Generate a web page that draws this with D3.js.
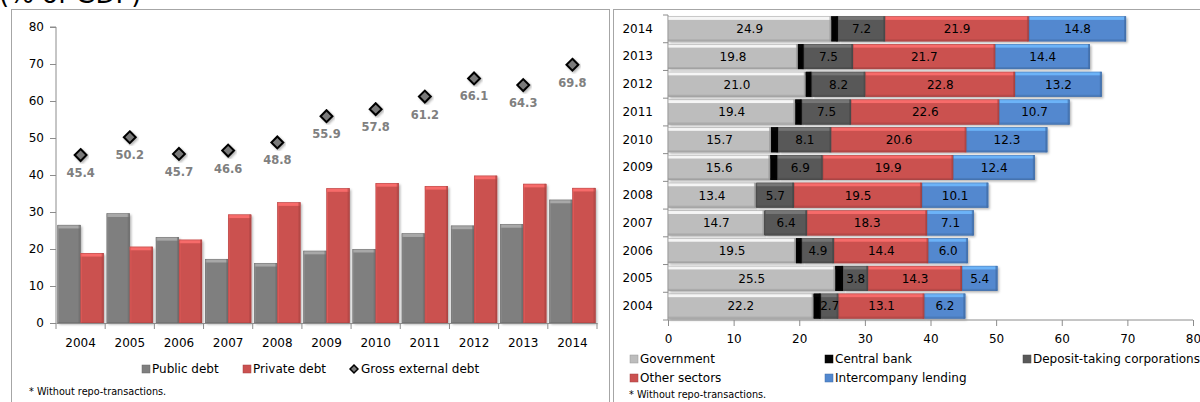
<!DOCTYPE html>
<html>
<head>
<meta charset="utf-8">
<script src="https://cdn.jsdelivr.net/npm/d3@7"></script>
<style>
  html, body { margin: 0; padding: 0; background: #fff; }
  svg { display: block; font-family: "DejaVu Sans", Verdana, sans-serif; }
</style>
</head>
<body>
<svg id="chart" width="1200" height="402"></svg>
<script>
// ---------- data ----------
const years = ["2004","2005","2006","2007","2008","2009","2010","2011","2012","2013","2014"];
const publicDebt  = [26.5, 29.6, 23.2, 17.3, 16.2, 19.5, 20.0, 24.2, 26.3, 26.7, 33.3];
const privateDebt = [18.9, 20.6, 22.5, 29.3, 32.6, 36.4, 37.8, 37.0, 39.8, 37.6, 36.5];
const grossDebt   = [45.4, 50.2, 45.7, 46.6, 48.8, 55.9, 57.8, 61.2, 66.1, 64.3, 69.8];
const leftTicks   = [0, 10, 20, 30, 40, 50, 60, 70, 80];

const government    = [22.2, 25.5, 19.5, 14.7, 13.4, 15.6, 15.7, 19.4, 21.0, 19.8, 24.9];
const centralBank   = [1.1, 1.2, 0.9, 0.1, 0.1, 1.1, 1.1, 1.0, 0.9, 0.9, 1.0];
const depositTaking = [2.7, 3.8, 4.9, 6.4, 5.7, 6.9, 8.1, 7.5, 8.2, 7.5, 7.2];
const otherSectors  = [13.1, 14.3, 14.4, 18.3, 19.5, 19.9, 20.6, 22.6, 22.8, 21.7, 21.9];
const intercompany  = [6.2, 5.4, 6.0, 7.1, 10.1, 12.4, 12.3, 10.7, 13.2, 14.4, 14.8];
const rightTicks    = [0, 10, 20, 30, 40, 50, 60, 70, 80];

const leftSeries  = ["Public debt", "Private debt"];
const rightSeries = ["Government", "Central bank", "Deposit-taking corporations", "Other sectors", "Intercompany lending"];
const title = "(% of GDP)";
const footnote = "* Without repo-transactions.";

// ---------- styles ----------
const colors = {
  "Public debt": "#7f7f7f",
  "Private debt": "#cb5150",
  "Government": "#bdbdbd",
  "Central bank": "#050505",
  "Deposit-taking corporations": "#595959",
  "Other sectors": "#cb5150",
  "Intercompany lending": "#5288cf"
};
const axisColor = "#8c8c8c";

const svg = d3.select("#chart");
const defs = svg.append("defs");
const f = defs.append("filter").attr("id", "shadow").attr("x", "-10%").attr("y", "-10%").attr("width", "130%").attr("height", "130%");
f.append("feDropShadow").attr("dx", 1.5).attr("dy", 1.5).attr("stdDeviation", 1).attr("flood-color", "#000").attr("flood-opacity", 0.3);

function bevelRect(g, x, y, w, h, color, horizontal) {
  const c = d3.color(color);
  const grp = g.append("g");
  grp.append("rect").attr("x", x).attr("y", y).attr("width", Math.max(0, w)).attr("height", Math.max(0, h))
    .attr("fill", color).attr("filter", "url(#shadow)");
  if (w > 2 && h > 2) {
    // top light bevel
    grp.append("rect").attr("x", x).attr("y", y).attr("width", w).attr("height", Math.min(3.5, h))
      .attr("fill", c.brighter(0.9)).attr("opacity", 0.85);
    // dark edge (right for horizontal, bottom-right for vertical)
    if (horizontal) {
      grp.append("rect").attr("x", x + w - 2).attr("y", y).attr("width", 2).attr("height", h)
        .attr("fill", c.darker(0.6)).attr("opacity", 0.7);
      grp.append("rect").attr("x", x).attr("y", y + h - 2).attr("width", w).attr("height", 2)
        .attr("fill", c.darker(0.6)).attr("opacity", 0.5);
    } else {
      grp.append("rect").attr("x", x + w - 2).attr("y", y).attr("width", 2).attr("height", h)
        .attr("fill", c.darker(0.5)).attr("opacity", 0.6);
      grp.append("rect").attr("x", x).attr("y", y).attr("width", 1.5).attr("height", h)
        .attr("fill", c.brighter(0.5)).attr("opacity", 0.5);
    }
    grp.append("rect").attr("x", x + 0.25).attr("y", y + 0.25).attr("width", w - 0.5).attr("height", h - 0.5)
      .attr("fill", "none").attr("stroke", c.darker(0.8)).attr("stroke-width", 0.5).attr("opacity", 0.7);
  }
  return grp;
}

// ---------- panels ----------
svg.append("rect").attr("x", 11.5).attr("y", 9.5).attr("width", 598).attr("height", 420)
  .attr("fill", "none").attr("stroke", "#a6a6a6").attr("stroke-width", 1);
svg.append("rect").attr("x", 613.5).attr("y", 9.5).attr("width", 620).attr("height", 420)
  .attr("fill", "none").attr("stroke", "#a6a6a6").attr("stroke-width", 1);

svg.append("text").attr("x", -1).attr("y", 3).attr("font-size", 26).attr("fill", "#000").text(title);

// ================= LEFT CHART =================
const L = svg.append("g");
const x0 = d3.scaleBand().domain(years).range([56, 597]).paddingInner(0).paddingOuter(0);
const x1 = d3.scaleBand().domain(leftSeries).range([1.5, x0.bandwidth() - 1.5]).padding(0);
const yL = d3.scaleLinear().domain([0, 80]).range([323, 27]);

// y axis
const yAxisL = L.append("g").attr("transform", "translate(56,0)")
  .call(d3.axisLeft(yL).tickValues(leftTicks).tickSize(6).tickPadding(6).tickFormat(d3.format("d")));
yAxisL.selectAll("text").attr("font-size", 12).attr("fill", "#000").attr("font-family", "DejaVu Sans");
yAxisL.selectAll("line").attr("stroke", axisColor);
yAxisL.select(".domain").attr("stroke", axisColor).attr("d", `M-6,${yL(80)}H0V${yL(0)}`);

// bars
const leftVals = { "Public debt": publicDebt, "Private debt": privateDebt };
years.forEach((yr, i) => {
  leftSeries.forEach(s => {
    const v = leftVals[s][i];
    const bx = x0(yr) + x1(s);
    bevelRect(L, bx, yL(v), x1.bandwidth(), yL(0) - yL(v), colors[s], false);
  });
});

// x axis
const xAxisL = L.append("g").attr("transform", `translate(0,${yL(0)})`)
  .call(d3.axisBottom(x0).tickSize(0).tickPadding(15));
xAxisL.selectAll("text").attr("font-size", 12).attr("fill", "#000").attr("font-family", "DejaVu Sans");
xAxisL.select(".domain").attr("stroke", axisColor);
const boundaries = years.map(y => x0(y)).concat([x0(years[years.length - 1]) + x0.bandwidth()]);
xAxisL.selectAll(".bnd").data(boundaries).enter().append("line")
  .attr("x1", d => d).attr("x2", d => d).attr("y1", 0).attr("y2", 6).attr("stroke", axisColor);

// diamonds (gross external debt)
const diamond = d3.symbol().type(d3.symbolDiamond2).size(90);
L.selectAll(".dia").data(grossDebt).enter().append("path")
  .attr("d", diamond)
  .attr("transform", (d, i) => `translate(${x0(years[i]) + x0.bandwidth() / 2},${yL(d)}) rotate(0)`)
  .attr("fill", "#7a7a7a").attr("stroke", "#000").attr("stroke-width", 2)
  .attr("filter", "url(#shadow)");
L.selectAll(".dlab").data(grossDebt).enter().append("text")
  .attr("x", (d, i) => x0(years[i]) + x0.bandwidth() / 2)
  .attr("y", d => yL(d) + 22)
  .attr("text-anchor", "middle").attr("font-size", 11.5).attr("font-weight", "bold")
  .attr("fill", "#808080").text(d => d.toFixed(1));

// left legend
const legL = L.append("g").attr("transform", "translate(0,369)");
const legLItems = [
  { name: "Public debt", x: 142, type: "sq" },
  { name: "Private debt", x: 243, type: "sq" },
  { name: "Gross external debt", x: 349, type: "dia" }
];
legLItems.forEach(it => {
  if (it.type === "sq") {
    legL.append("rect").attr("x", it.x).attr("y", -4).attr("width", 8).attr("height", 8)
      .attr("fill", colors[it.name]).attr("stroke", d3.color(colors[it.name]).darker(0.6)).attr("stroke-width", 0.5);
    legL.append("text").attr("x", it.x + 10).attr("y", 0).attr("dy", "0.35em").attr("font-size", 12).text(it.name);
  } else {
    legL.append("path").attr("d", d3.symbol().type(d3.symbolDiamond2).size(40))
      .attr("transform", `translate(${it.x + 5},0)`).attr("fill", "#7a7a7a").attr("stroke", "#000").attr("stroke-width", 1.5);
    legL.append("text").attr("x", it.x + 12).attr("y", 0).attr("dy", "0.35em").attr("font-size", 12).text(it.name);
  }
});
L.append("text").attr("x", 29).attr("y", 392).attr("dy", "0.35em").attr("font-size", 9.7).text(footnote);

// ================= RIGHT CHART =================
const R = svg.append("g");
const xR = d3.scaleLinear().domain([0, 80]).range([668, 1193]);
const yR = d3.scaleBand().domain(years.slice().reverse()).range([15, 320]).paddingInner(0.1).paddingOuter(0.05);

const rightVals = {
  "Government": government,
  "Central bank": centralBank,
  "Deposit-taking corporations": depositTaking,
  "Other sectors": otherSectors,
  "Intercompany lending": intercompany
};

// y axis (category ticks at boundaries)
const yAxisR = R.append("g").attr("transform", "translate(668,0)")
  .call(d3.axisLeft(yR).tickSize(0).tickPadding(15));
yAxisR.selectAll("text").attr("font-size", 12).attr("fill", "#000").attr("font-family", "DejaVu Sans");
yAxisR.select(".domain").attr("stroke", axisColor).attr("d", `M0,${yR.range()[0]}V${yR.range()[1]}`);
const step = yR.step();
const rBounds = d3.range(years.length + 1).map(k => yR.range()[0] + k * (yR.range()[1] - yR.range()[0]) / years.length);
yAxisR.selectAll(".bnd").data(rBounds).enter().append("line")
  .attr("x1", -5).attr("x2", 0).attr("y1", d => d).attr("y2", d => d).attr("stroke", axisColor);

// stacked bars
years.forEach((yr, i) => {
  let cum = 0;
  rightSeries.forEach(s => {
    const v = rightVals[s][i];
    const x = xR(cum), w = xR(cum + v) - xR(cum);
    bevelRect(R, x, yR(yr), w, yR.bandwidth(), colors[s], true);
    if (s !== "Central bank") {
      R.append("text").attr("x", x + w / 2).attr("y", yR(yr) + yR.bandwidth() / 2).attr("dy", "0.36em")
        .attr("text-anchor", "middle").attr("font-size", 12).attr("fill", "#000").text(v.toFixed(1));
    }
    cum += v;
  });
});

// x axis
const xAxisR = R.append("g").attr("transform", "translate(0,320)")
  .call(d3.axisBottom(xR).tickValues(rightTicks).tickSize(6).tickPadding(8).tickFormat(d3.format("d")));
xAxisR.selectAll("text").attr("font-size", 12).attr("fill", "#000").attr("font-family", "DejaVu Sans");
xAxisR.selectAll("line").attr("stroke", axisColor);
xAxisR.select(".domain").attr("stroke", axisColor).attr("d", `M${xR(0)},0H${xR(80)}`);

// right legend
const legR = R.append("g");
const legRItems = [
  { name: "Government", x: 630, y: 359 },
  { name: "Central bank", x: 825, y: 359 },
  { name: "Deposit-taking corporations", x: 1023, y: 359 },
  { name: "Other sectors", x: 630, y: 378 },
  { name: "Intercompany lending", x: 825, y: 378 }
];
legRItems.forEach(it => {
  legR.append("rect").attr("x", it.x).attr("y", it.y - 4).attr("width", 8).attr("height", 8)
    .attr("fill", colors[it.name]).attr("stroke", d3.color(colors[it.name]).darker(0.6)).attr("stroke-width", 0.5);
  legR.append("text").attr("x", it.x + 10).attr("y", it.y).attr("dy", "0.35em").attr("font-size", 12).text(it.name);
});
R.append("text").attr("x", 629).attr("y", 395).attr("dy", "0.35em").attr("font-size", 9.7).text(footnote);
</script>
</body>
</html>
